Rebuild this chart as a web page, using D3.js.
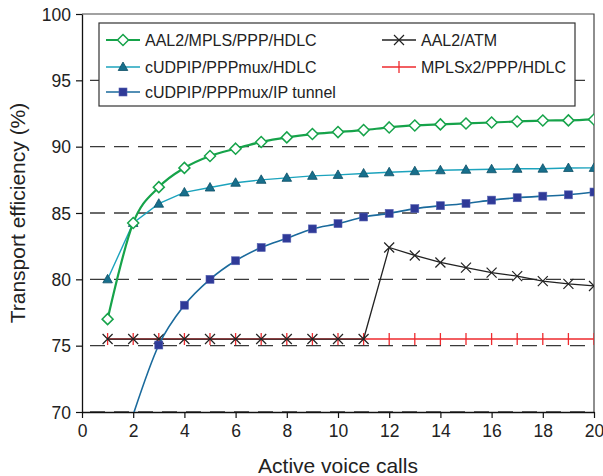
<!DOCTYPE html>
<html>
<head>
<meta charset="utf-8">
<script src="https://cdn.jsdelivr.net/npm/d3@7"></script>
<style>
  body { margin: 0; background: #fff; }
  svg { font-family: "Liberation Sans", Arial, sans-serif; }
</style>
</head>
<body>
<svg width="603" height="476"></svg>
<script>
// data
const calls = d3.range(1, 21)
const aal2Mpls = [77.0, 84.25, 86.95, 88.4, 89.3, 89.85, 90.35, 90.7, 90.95, 91.1, 91.25, 91.45, 91.6, 91.68, 91.75, 91.82, 91.9, 91.97, 91.98, 92.05]
const cudpHdlc = [80.0, 84.25, 85.7, 86.55, 86.92, 87.28, 87.5, 87.65, 87.8, 87.87, 87.98, 88.07, 88.15, 88.22, 88.26, 88.3, 88.33, 88.34, 88.39, 88.4]
const cudpTunnel = [null, 69.8, 75.05, 78.05, 80.0, 81.4, 82.4, 83.1, 83.8, 84.2, 84.7, 84.97, 85.33, 85.55, 85.72, 85.97, 86.15, 86.27, 86.37, 86.58]
const aal2Atm = [75.5, 75.5, 75.5, 75.5, 75.5, 75.5, 75.5, 75.5, 75.5, 75.5, 75.5, 82.4, 81.8, 81.27, 80.88, 80.5, 80.24, 79.87, 79.66, 79.5]
const mplsx2 = [75.5, 75.5, 75.5, 75.5, 75.5, 75.5, 75.5, 75.5, 75.5, 75.5, 75.5, 75.5, 75.5, 75.5, 75.5, 75.5, 75.5, 75.5, 75.5, 75.5]
const xTicks = d3.range(0, 21, 2)
const yTicks = [70, 75, 80, 85, 90, 95, 100]
const gridValues = [70, 75, 80, 85, 90, 95]

const series = [
  { name: 'AAL2/MPLS/PPP/HDLC', values: aal2Mpls, line: '#16a34a', width: 2.2, marker: 'diamond', fill: '#fff', stroke: '#16a34a', curve: d3.curveMonotoneX },
  { name: 'cUDPIP/PPPmux/HDLC', values: cudpHdlc, line: '#1ca3bd', width: 1.4, marker: 'triangle', fill: '#176f8c', stroke: '#176f8c', curve: d3.curveLinear },
  { name: 'cUDPIP/PPPmux/IP tunnel', values: cudpTunnel, line: '#1a6a9c', width: 1.6, marker: 'square', fill: '#2f3a98', stroke: '#2f3a98', curve: d3.curveMonotoneX },
  { name: 'MPLSx2/PPP/HDLC', values: mplsx2, line: '#ee2a2e', width: 1.4, marker: 'plus', fill: 'none', stroke: '#ee2a2e', curve: d3.curveLinear },
  { name: 'AAL2/ATM', values: aal2Atm, line: '#222', width: 1.3, marker: 'cross', fill: 'none', stroke: '#222', curve: d3.curveLinear }
]

const svg = d3.select('svg')
const margin = { left: 82, top: 14, right: 9, bottom: 64 }
const W = 603, H = 476
const x = d3.scaleLinear().domain([0, 20]).range([margin.left, W - margin.right])
const y = d3.scaleLinear().domain([70, 100]).range([H - margin.bottom, margin.top])

svg.append('clipPath').attr('id', 'plot')
  .append('rect')
  .attr('x', x(0)).attr('y', y(100))
  .attr('width', x(20) - x(0)).attr('height', y(70) - y(100))

// dashed grid
svg.append('g').selectAll('line').data(gridValues).join('line')
  .attr('x1', x(0) + 8).attr('x2', x(20))
  .attr('y1', d => y(d)).attr('y2', d => y(d))
  .attr('stroke', '#3a3a3a').attr('stroke-width', 1.3)
  .attr('stroke-dasharray', '15,9')

// frame top/right
svg.append('path')
  .attr('d', `M${x(0)},${y(100)}H${x(20)}V${y(70)}`)
  .attr('fill', 'none').attr('stroke', '#444').attr('stroke-width', 1.2)

// axes
const xAxis = svg.append('g').attr('transform', `translate(0,${y(70)})`)
  .call(d3.axisBottom(x).tickValues(xTicks).tickSize(6).tickPadding(7).tickSizeOuter(0))
const yAxis = svg.append('g').attr('transform', `translate(${x(0)},0)`)
  .call(d3.axisLeft(y).tickValues(yTicks).tickSize(6).tickPadding(5).tickSizeOuter(0))
for (const g of [xAxis, yAxis]) {
  g.select('.domain').attr('stroke', '#111').attr('stroke-width', 1.3)
  g.selectAll('.tick line').attr('stroke', '#111').attr('stroke-width', 1.2)
  g.selectAll('.tick text').attr('fill', '#222').style('font-size', '17.5px')
}
yAxis.selectAll('.tick text').attr('dy', '0.36em')

svg.append('text')
  .attr('x', (x(0) + x(20)) / 2 + 0).attr('y', 473)
  .attr('text-anchor', 'middle').attr('fill', '#222').style('font-size', '21px')
  .text('Active voice calls')
svg.append('text')
  .attr('transform', `translate(25,${(y(70) + y(100)) / 2}) rotate(-90)`)
  .attr('text-anchor', 'middle').attr('fill', '#222').style('font-size', '21px')
  .text('Transport efficiency (%)')

function drawMarker (g, s, cx, cy) {
  if (s.marker === 'diamond') {
    g.append('path').attr('d', `M${cx},${cy - 5.5}L${cx + 5.5},${cy}L${cx},${cy + 5.5}L${cx - 5.5},${cy}Z`)
      .attr('fill', s.fill).attr('stroke', s.stroke).attr('stroke-width', 1.5)
  } else if (s.marker === 'triangle') {
    g.append('path').attr('d', `M${cx},${cy - 5}L${cx + 4.8},${cy + 3.5}L${cx - 4.8},${cy + 3.5}Z`)
      .attr('fill', s.fill).attr('stroke', '#0e4f66').attr('stroke-width', 0.8)
  } else if (s.marker === 'square') {
    g.append('rect').attr('x', cx - 4).attr('y', cy - 4).attr('width', 8).attr('height', 8)
      .attr('fill', s.fill).attr('stroke', '#5560b0').attr('stroke-width', 0.6)
  } else if (s.marker === 'plus') {
    g.append('path').attr('d', `M${cx},${cy - 6}V${cy + 6}`)
      .attr('stroke', s.stroke).attr('stroke-width', 1.3)
  } else if (s.marker === 'cross') {
    g.append('path').attr('d', `M${cx - 5},${cy - 5}L${cx + 5},${cy + 5}M${cx - 5},${cy + 5}L${cx + 5},${cy - 5}`)
      .attr('stroke', s.stroke).attr('stroke-width', 1.2)
  }
}

const plot = svg.append('g').attr('clip-path', 'url(#plot)')
const drawOrder = [series[3], series[4], series[2], series[1], series[0]]
drawOrder.forEach(s => {
  const pts = calls.map((c, i) => [c, s.values[i]]).filter(d => d[1] != null)
  const line = d3.line().x(d => x(d[0])).y(d => y(d[1])).curve(s.curve)
  plot.append('path').datum(pts)
    .attr('d', line).attr('fill', 'none')
    .attr('stroke', s.line).attr('stroke-width', s.width)
  const mg = plot.append('g')
  pts.filter(d => d[1] >= 70).forEach(d => drawMarker(mg, s, x(d[0]), y(d[1])))
})

// legend
const legend = svg.append('g')
legend.append('rect').attr('x', 99).attr('y', 23).attr('width', 476).attr('height', 83)
  .attr('fill', '#fff').attr('stroke', '#333').attr('stroke-width', 1.2)
const legendPos = [
  { s: series[0], x: 106, y: 40 },
  { s: series[1], x: 106, y: 67 },
  { s: series[2], x: 106, y: 92 },
  { s: series[4], x: 382, y: 40 },
  { s: series[3], x: 382, y: 67 }
]
legendPos.forEach(({ s, x: lx, y: ly }) => {
  legend.append('line').attr('x1', lx).attr('x2', lx + 34).attr('y1', ly).attr('y2', ly)
    .attr('stroke', s.line).attr('stroke-width', s.width)
  drawMarker(legend, s, lx + 17, ly)
  legend.append('text').attr('x', lx + 39).attr('y', ly).attr('dy', '0.36em')
    .attr('fill', '#222').style('font-size', '16px').text(s.name)
})
</script>
</body>
</html>
